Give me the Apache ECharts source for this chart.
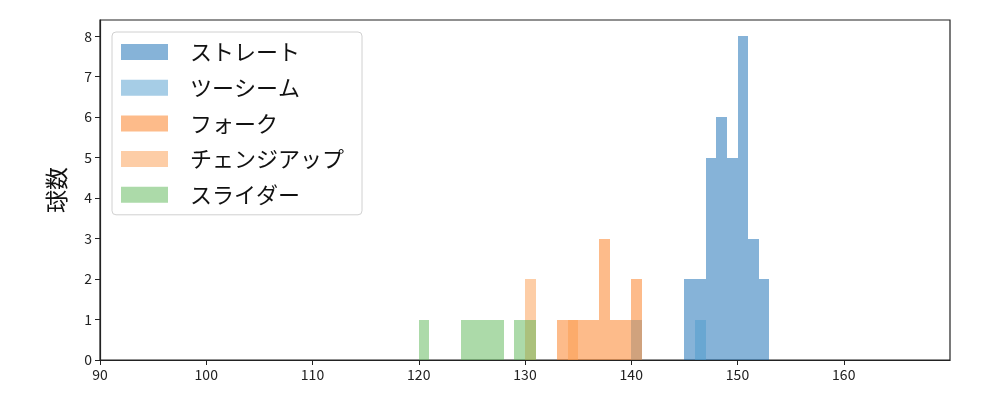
<!DOCTYPE html>
<html>
<head>
<meta charset="utf-8">
<script src="https://cdn.jsdelivr.net/npm/echarts@6/dist/echarts.min.js"></script>
<style>
  html, body { margin: 0; padding: 0; background: #fff; }
  #chart { width: 1000px; height: 400px; }
</style>
</head>
<body>
<div id="chart"></div>
<script>
// bins: [from, to, count]
const straightBins = [
  [145, 146, 2], [146, 147, 2], [147, 148, 5], [148, 149, 6],
  [149, 150, 5], [150, 151, 8], [151, 152, 3], [152, 153, 2]
]
const twoSeamBins = [[140, 141, 1], [146, 147, 1]]
const forkBins = [
  [133, 134, 1], [134, 135, 1], [135, 136, 1], [136, 137, 1],
  [137, 138, 3], [138, 139, 1], [139, 140, 1], [140, 141, 2]
]
const changeupBins = [[130, 131, 2], [134, 135, 1]]
const sliderBins = [
  [120, 121, 1], [124, 125, 1], [125, 126, 1], [126, 127, 1],
  [127, 128, 1], [129, 130, 1], [130, 131, 1]
]
const pitchNames = ['ストレート', 'ツーシーム', 'フォーク', 'チェンジアップ', 'スライダー']
const xTicks = [90, 100, 110, 120, 130, 140, 150, 160]
const yTicks = [0, 1, 2, 3, 4, 5, 6, 7, 8]

const colors = [
  'rgba(13, 104, 177, 0.5)',
  'rgba(77, 155, 205, 0.5)',
  'rgba(251, 119, 21, 0.5)',
  'rgba(251, 155, 77, 0.5)',
  'rgba(89, 181, 83, 0.5)'
]
const font = '"Noto Sans CJK JP", "DejaVu Sans", sans-serif'

function renderBar(params, api) {
  const p0 = api.coord([api.value(0), api.value(2)])
  const p1 = api.coord([api.value(1), 0])
  // snap to whole pixels so neighbouring bins don't leave seams
  const x0 = Math.round(p0[0]), x1 = Math.round(p1[0])
  const y0 = Math.round(p0[1]), y1 = Math.round(p1[1])
  return {
    type: 'rect',
    shape: { x: x0, y: y0, width: x1 - x0, height: y1 - y0 },
    style: { fill: api.visual('color') }
  }
}

const allBins = [straightBins, twoSeamBins, forkBins, changeupBins, sliderBins]

const chart = echarts.init(document.getElementById('chart'))
chart.setOption({
  animation: false,
  textStyle: { fontFamily: font },
  grid: {
    left: 100, right: 50, top: 20, bottom: 40,
    show: true, borderColor: '#222', borderWidth: 1.2, backgroundColor: 'transparent'
  },
  legend: {
    orient: 'vertical',
    left: 112, top: 32,
    padding: [9, 18, 9, 9],
    itemWidth: 47, itemHeight: 16, itemGap: 13.7,
    icon: 'rect',
    backgroundColor: '#fff',
    borderColor: '#d0d0d0', borderWidth: 1, borderRadius: 4,
    textStyle: { fontSize: 22, color: '#111', fontFamily: font, padding: [0, 0, 0, 17] },
    data: pitchNames
  },
  xAxis: {
    type: 'value', min: 90, max: 170, interval: 10,
    splitLine: { show: false },
    axisLine: { lineStyle: { color: '#222', width: 1.2 } },
    axisTick: { show: true, length: 5, customValues: xTicks, lineStyle: { color: '#222' } },
    axisLabel: { customValues: xTicks, color: '#222', fontSize: 14, margin: 8 }
  },
  yAxis: {
    type: 'value', min: 0, max: 8.4, interval: 1,
    name: '球数', nameLocation: 'middle', nameGap: 32,
    nameTextStyle: { fontSize: 23, color: '#111' },
    splitLine: { show: false },
    axisLine: { show: true, lineStyle: { color: '#222', width: 1.2 } },
    axisTick: { show: true, length: 5, customValues: yTicks, lineStyle: { color: '#222' } },
    axisLabel: { customValues: yTicks, color: '#222', fontSize: 14, margin: 8 }
  },
  series: pitchNames.map((name, i) => ({
    name: name,
    type: 'custom',
    renderItem: renderBar,
    itemStyle: { color: colors[i] },
    encode: { x: [0, 1], y: 2 },
    data: allBins[i]
  }))
})
</script>
</body>
</html>
